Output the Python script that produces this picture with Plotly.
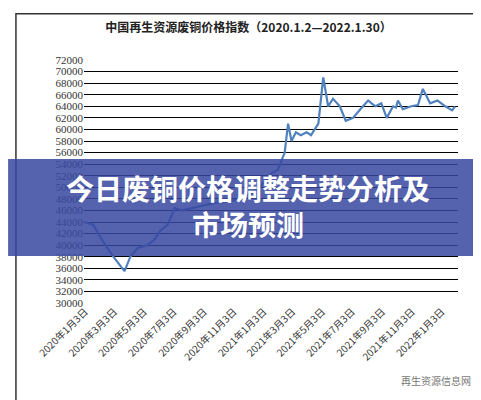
import plotly.graph_objects as go

dates = ["2020-01-03","2020-01-20","2020-02-10","2020-03-01","2020-03-24","2020-04-05","2020-04-20",
         "2020-05-10","2020-05-25","2020-06-05","2020-06-20","2020-07-05","2020-07-20","2020-08-10",
         "2020-09-01","2020-09-25","2020-10-20","2020-11-15","2020-12-10","2020-12-31","2021-01-20",
         "2021-02-01","2021-02-15","2021-02-22","2021-03-01","2021-03-10","2021-03-20","2021-04-01",
         "2021-04-10","2021-04-25","2021-05-05","2021-05-15","2021-05-25","2021-06-08","2021-06-20",
         "2021-07-05","2021-07-20","2021-08-05","2021-08-12","2021-08-20","2021-09-01","2021-09-12",
         "2021-09-25","2021-10-01","2021-10-05","2021-10-15","2021-11-01","2021-11-15","2021-11-25",
         "2021-12-10","2021-12-25","2022-01-10","2022-01-24","2022-01-30"]
values = [44000,43500,40500,38000,35500,38000,39500,
          40000,41000,42500,43500,46400,46000,46400,
          46800,47300,47500,48000,49000,50500,52500,
          53000,56000,61000,58000,59500,59000,59500,
          59000,61000,69000,64000,65300,64000,61500,
          62000,63500,65000,64500,64000,64500,62000,
          64000,63800,65000,63500,64000,64200,67000,
          64500,65000,64000,63300,64000]
tick_vals = ["2020-01-03","2020-03-03","2020-05-03","2020-07-03","2020-09-03","2020-11-03",
             "2021-01-03","2021-03-03","2021-05-03","2021-07-03","2021-09-03","2021-11-03","2022-01-03"]
tick_text = [f"{d[:4]}年{int(d[5:7])}月3日" for d in tick_vals]
y_ticks = list(range(30000, 72001, 2000))

serif = "Liberation Serif, DejaVu Serif, Noto Sans CJK SC"
fig = go.Figure(go.Scatter(x=dates, y=values, mode="lines",
                           line=dict(color="rgb(79,129,189)", width=2.2)))
fig.update_layout(
    width=481, height=400, margin=dict(l=76, r=31, t=52, b=105),
    paper_bgcolor="white", plot_bgcolor="white", showlegend=False,
    title=dict(text="<b>中国再生资源废铜价格指数（2020.1.2—2022.1.30）</b>",
               x=0.5, xanchor="center", y=0.95, yanchor="middle",
               font=dict(family="Noto Sans CJK SC", size=12, color="#222")),
    xaxis=dict(type="date", range=["2020-01-01", "2022-02-05"], tickvals=tick_vals,
               ticktext=tick_text, tickangle=-45, showgrid=False, zeroline=False,
               tickfont=dict(family="Noto Sans CJK SC", size=10, color="#333")),
    yaxis=dict(range=[30000, 72000], tickvals=y_ticks, tickformat="d", showgrid=True,
               gridcolor="black", gridwidth=1, zeroline=False,
               tickfont=dict(family=serif, size=11, color="#333")),
    shapes=[
        dict(type="rect", xref="paper", yref="paper", x0=-0.182, x1=1.056, y0=-0.403, y1=1.19,
             line=dict(color="#333", width=1.5), fillcolor="rgba(0,0,0,0)", layer="below"),
        dict(type="rect", xref="paper", yref="paper", x0=-0.203, x1=1.083, y0=0.193, y1=0.593,
             line=dict(width=0), fillcolor="rgba(55,72,160,0.85)", layer="above"),
    ],
    annotations=[
        dict(text="<b>今日废铜价格调整走势分析及<br>市场预测</b>", xref="paper", yref="paper",
             x=0.439, y=0.40, showarrow=False, align="center",
             font=dict(family="Noto Sans CJK SC", size=28, color="white")),
        dict(text="再生资源信息网", xref="paper", yref="paper", x=1.04, y=-0.36,
             xanchor="right", showarrow=False,
             font=dict(family="Noto Sans CJK SC", size=10, color="#777")),
    ],
)
fig.write_html("out.html")
